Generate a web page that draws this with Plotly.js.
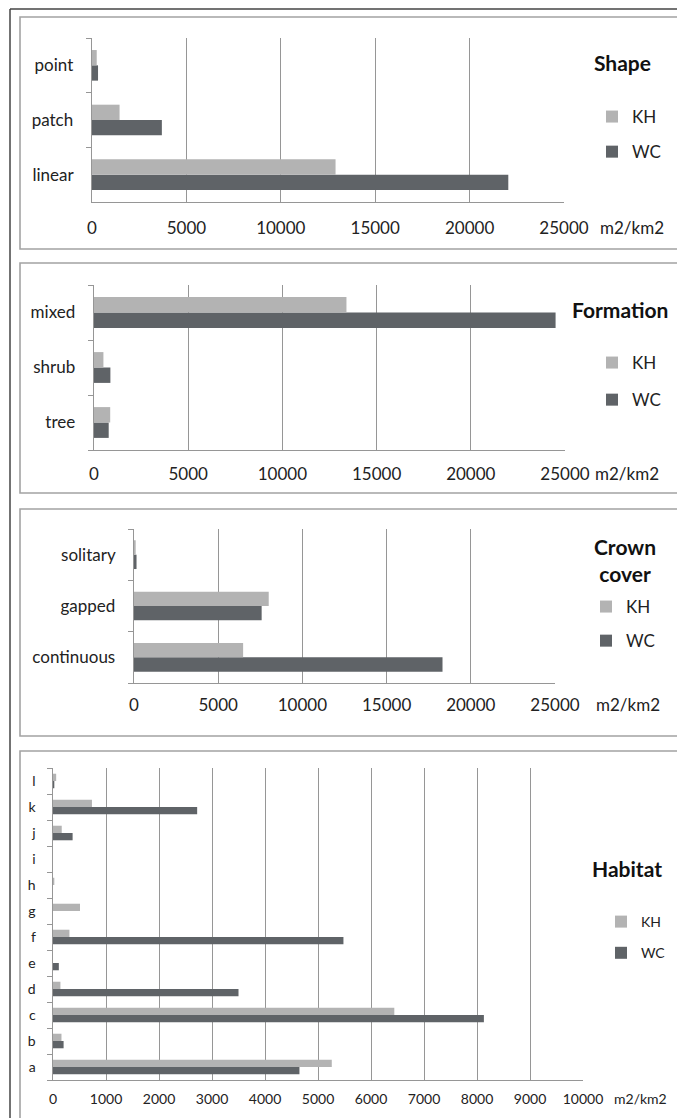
<!DOCTYPE html>
<html>
<head>
<meta charset="utf-8">
<script src="https://cdn.plot.ly/plotly-3.0.1.min.js"></script>
<style>
  html, body { margin: 0; padding: 0; background: #ffffff; }
  #chart { width: 677px; height: 1118px; }
</style>
</head>
<body>
<div id="chart"></div>
<script>
// ---------- data ----------
const seriesNames = ['KH', 'WC'];
const unitLabel = 'm2/km2';

const shapeCats = ['linear', 'patch', 'point'];
const shapeKH = [12900, 1460, 250];
const shapeWC = [22050, 3700, 320];

const formationCats = ['tree', 'shrub', 'mixed'];
const formationKH = [860, 500, 13400];
const formationWC = [780, 870, 24500];

const crownCats = ['continuous', 'gapped', 'solitary'];
const crownKH = [6480, 8000, 100];
const crownWC = [18320, 7580, 150];

const habitatCats = ['a', 'b', 'c', 'd', 'e', 'f', 'g', 'h', 'i', 'j', 'k', 'l'];
const habitatKH = [5260, 160, 6440, 140, 0, 310, 510, 25, 0, 165, 735, 60];
const habitatWC = [4650, 200, 8130, 3500, 110, 5480, 0, 0, 0, 370, 2720, 25];

const shapeTicks = [0, 5000, 10000, 15000, 20000, 25000];
const habitatTicks = [0, 1000, 2000, 3000, 4000, 5000, 6000, 7000, 8000, 9000, 10000];

// ---------- layout helpers ----------
const W = 677, H = 1118;
const px = v => v / W;
const py = v => 1 - v / H;
const FONT = 'Lato, "Open Sans", sans-serif';
const COL_KH = '#b3b3b3';
const COL_WC = '#5f6367';
const GRID = '#969696';
const TXT = '#222222';
const NB = '\u00a0';

const panels = [
  { cats: shapeCats, kh: shapeKH, wc: shapeWC, ticks: shapeTicks, max: 25000,
    x: [92, 564], y: [38, 202], fs: 17, title: 'Shape', titleY: 62, titleX: 622,
    legY: 99, legX: 592, gap: 10, unitX: 632, lab: 227, xl: 11 },
  { cats: formationCats, kh: formationKH, wc: formationWC, ticks: shapeTicks, max: 25000,
    x: [94, 565], y: [285, 450], fs: 17, title: 'Formation', titleY: 309, titleX: 620,
    legY: 345, legX: 592, gap: 12, unitX: 627, lab: 473, xl: 9 },
  { cats: crownCats, kh: crownKH, wc: crownWC, ticks: shapeTicks, max: 25000,
    x: [134, 555], y: [529, 683], fs: 17, title: 'Crown<br>cover', titleY: 560, titleX: 625,
    legY: 589, legX: 586, gap: 9, unitX: 628, lab: 704, xl: 7 },
  { cats: habitatCats, kh: habitatKH, wc: habitatWC, ticks: habitatTicks, max: 10000,
    x: [53, 583], y: [768, 1080], fs: 14, title: 'Habitat', titleY: 868, titleX: 627,
    legY: 906, legX: 601, gap: 10, unitX: 640, lab: 1098, xl: 6 }
];

const data = [];
const layout = {
  width: W, height: H,
  margin: { l: 0, r: 0, t: 0, b: 0 },
  paper_bgcolor: '#ffffff', plot_bgcolor: 'rgba(0,0,0,0)',
  barmode: 'group', bargap: 0.44, bargroupgap: 0,
  font: { family: FONT, color: TXT, size: 15 },
  annotations: [], shapes: []
};

panels.forEach((p, i) => {
  const n = i === 0 ? '' : String(i + 1);
  const xa = 'x' + n, ya = 'y' + n, lg = 'legend' + n;
  // WC first so it sits below KH within each category
  data.push({
    type: 'bar', orientation: 'h', name: seriesNames[1], y: p.cats, x: p.wc,
    xaxis: xa, yaxis: ya, marker: { color: COL_WC }, legend: lg,
    legendgroup: 'wc' + i, legendrank: 2, hoverinfo: 'x+y'
  });
  data.push({
    type: 'bar', orientation: 'h', name: seriesNames[0], y: p.cats, x: p.kh,
    xaxis: xa, yaxis: ya, marker: { color: COL_KH }, legend: lg,
    legendgroup: 'kh' + i, legendrank: 1, hoverinfo: 'x+y'
  });

  layout['xaxis' + n] = {
    domain: [px(p.x[0]), px(p.x[1])], anchor: ya,
    range: [0, p.max], tickmode: 'array', tickvals: p.ticks,
    ticktext: p.ticks.map(String),
    showgrid: true, gridcolor: GRID, gridwidth: 1, zeroline: false,
    showline: true, linecolor: GRID, linewidth: 1,
    ticks: 'outside', ticklen: p.xl, tickcolor: 'rgba(0,0,0,0)',
    tickfont: { family: FONT, size: p.fs, color: TXT },
    fixedrange: true
  };
  layout['yaxis' + n] = {
    domain: [py(p.y[1]), py(p.y[0])], anchor: xa,
    type: 'category', categoryorder: 'array', categoryarray: p.cats,
    range: [-0.5, p.cats.length - 0.5],
    tickmode: 'array', tickvals: p.cats, ticktext: p.cats.map(c => c + NB),
    showgrid: false, zeroline: false, showline: true, linecolor: GRID, linewidth: 1,
    ticks: 'outside', tickson: 'boundaries', ticklen: 5, tickcolor: GRID, tickwidth: 1,
    tickfont: { family: FONT, size: p.fs, color: TXT },
    ticklabelstandoff: 10,
    fixedrange: true
  };
  layout[lg] = {
    x: px(p.legX), xanchor: 'left', y: py(p.legY), yanchor: 'top',
    xref: 'paper', yref: 'paper',
    traceorder: 'grouped', tracegroupgap: p.gap,
    bgcolor: 'rgba(0,0,0,0)', borderwidth: 0,
    font: { family: FONT, size: p.fs, color: TXT },
    itemclick: false, itemdoubleclick: false
  };
  layout.annotations.push({
    xref: 'paper', yref: 'paper', x: px(p.titleX), y: py(p.titleY),
    xanchor: 'center', yanchor: 'middle', showarrow: false, align: 'center',
    text: p.title,
    font: { family: FONT, size: 21, color: '#111111', weight: 'bold' }
  });
  layout.annotations.push({
    xref: 'paper', yref: 'paper', x: px(p.unitX), y: py(p.lab),
    xanchor: 'center', yanchor: 'middle', showarrow: false,
    text: unitLabel, font: { family: FONT, size: p.fs, color: TXT }
  });
});

// panel frames
const frames = [[17, 249], [263, 493], [509, 736], [751, 1130]];
frames.forEach(f => {
  layout.shapes.push({
    type: 'rect', xref: 'paper', yref: 'paper',
    x0: px(20), x1: px(690), y0: py(f[1]), y1: py(f[0]),
    line: { color: '#a3a3a3', width: 1.6 }, fillcolor: 'rgba(0,0,0,0)', layer: 'below'
  });
});
// outer border (top and left)
layout.shapes.push({ type: 'line', xref: 'paper', yref: 'paper',
  x0: px(10), x1: px(690), y0: py(9), y1: py(9), line: { color: '#444444', width: 1.5 } });
layout.shapes.push({ type: 'line', xref: 'paper', yref: 'paper',
  x0: px(10), x1: px(10), y0: py(9), y1: py(1130), line: { color: '#444444', width: 1.5 } });

Plotly.newPlot('chart', data, layout, { displayModeBar: false, staticPlot: true });
</script>
</body>
</html>
